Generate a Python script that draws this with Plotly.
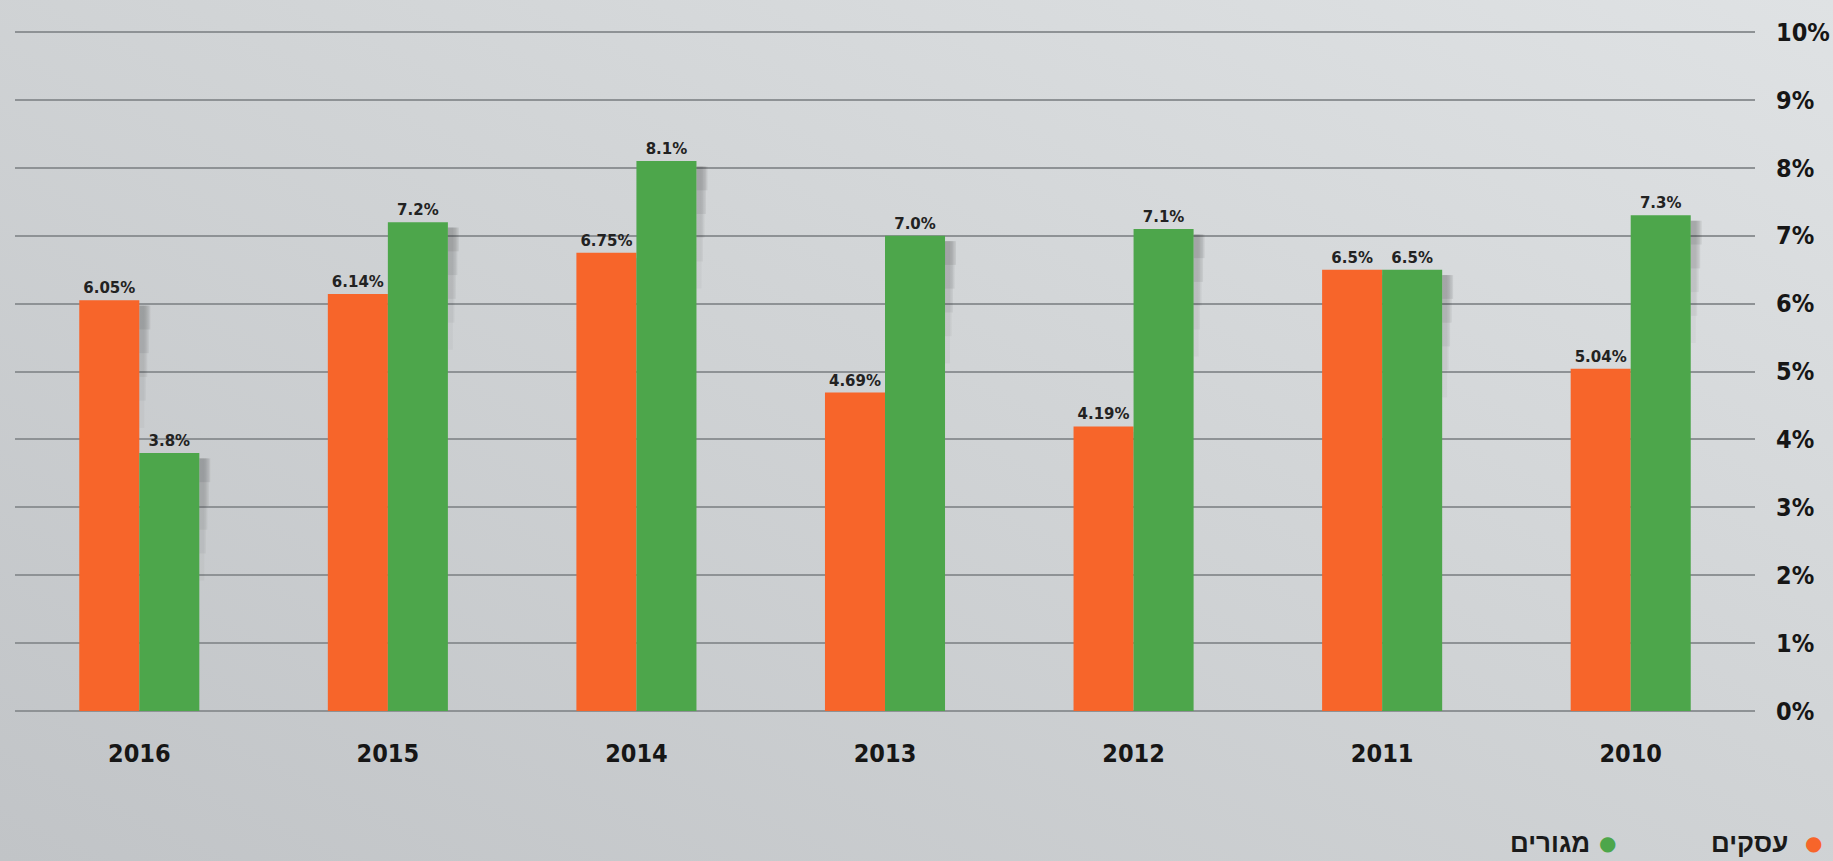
import base64
import plotly.graph_objects as go

years = ["2016", "2015", "2014", "2013", "2012", "2011", "2010"]
business = [6.05, 6.14, 6.75, 4.69, 4.19, 6.5, 5.04]
business_labels = ["6.05%", "6.14%", "6.75%", "4.69%", "4.19%", "6.5%", "5.04%"]
housing = [3.8, 7.2, 8.1, 7.0, 7.1, 6.5, 7.3]
housing_labels = ["3.8%", "7.2%", "8.1%", "7.0%", "7.1%", "6.5%", "7.3%"]
y_ticks = [0, 1, 2, 3, 4, 5, 6, 7, 8, 9, 10]
y_tick_labels = [f"{v}%" for v in y_ticks]
legend_names = ["עסקים", "מגורים"]

ORANGE = "#f7652a"
GREEN = "#4da64b"

W, H = 1833, 861
ML, MR, MT, MB = 15, 78, 30, 148
PW, PH = W - ML - MR, H - MT - MB
Y_PAD = 0.03
BAR_W = 0.2415

svg = f"""<svg xmlns='http://www.w3.org/2000/svg' width='{W}' height='{H}' preserveAspectRatio='none'>
<defs><linearGradient id='g' x1='0' y1='1' x2='1' y2='0'>
<stop offset='0' stop-color='#c1c4c7'/><stop offset='0.55' stop-color='#d1d4d6'/><stop offset='1' stop-color='#dfe2e4'/>
</linearGradient></defs><rect width='{W}' height='{H}' fill='url(#g)'/></svg>"""
bg_src = "data:image/svg+xml;base64," + base64.b64encode(svg.encode()).decode()

fig = go.Figure()

# soft shadows to the right of bars
for vals, off in ((business, -BAR_W), (housing, 0.0)):
    for depth, alpha, wid in ((0.35, 0.09, 0.044), (0.7, 0.08, 0.038), (1.05, 0.06, 0.032),
                              (1.4, 0.05, 0.026), (1.8, 0.04, 0.02)):
        fig.add_trace(go.Bar(
            x=years, y=[min(depth, v) for v in vals],
            base=[v - min(depth, v) - 0.08 for v in vals],
            offset=off + BAR_W, width=wid,
            marker=dict(color=f"rgba(40,40,40,{alpha})", line=dict(width=0)),
            hoverinfo="skip", showlegend=False,
        ))

label_font = dict(family="DejaVu Sans", size=15, color="#222222", weight="bold")
fig.add_trace(go.Bar(
    x=years, y=business, name=legend_names[0], offset=-BAR_W, width=BAR_W,
    marker=dict(color=ORANGE, line=dict(width=0)),
    text=business_labels, textposition="outside", textfont=label_font,
    cliponaxis=False, showlegend=False,
))
fig.add_trace(go.Bar(
    x=years, y=housing, name=legend_names[1], offset=0, width=BAR_W,
    marker=dict(color=GREEN, line=dict(width=0)),
    text=housing_labels, textposition="outside", textfont=label_font,
    cliponaxis=False, showlegend=False,
))

tick_font = dict(family="DejaVu Sans Condensed", size=25, color="#161616", weight="bold")

fig.update_layout(
    width=W, height=H,
    margin=dict(l=ML, r=MR, t=MT, b=MB, pad=0, autoexpand=False),
    barmode="overlay",
    paper_bgcolor="#d2d5d7",
    plot_bgcolor="rgba(0,0,0,0)",
    showlegend=False,
    xaxis=dict(
        type="category", categoryorder="array", categoryarray=years,
        showgrid=False, zeroline=False, showline=False, ticks="",
        tickfont=tick_font, ticklabelstandoff=23, automargin=False,
    ),
    yaxis=dict(
        range=[-Y_PAD, 10 + Y_PAD], side="right", tickvals=y_ticks, ticktext=y_tick_labels,
        showgrid=True, gridcolor="#8e9295", gridwidth=2,
        zeroline=False, showline=False, ticks="",
        tickfont=tick_font, ticklabelstandoff=20, automargin=False,
    ),
    images=[dict(
        source=bg_src, xref="paper", yref="paper",
        x=-ML / PW, y=1 + MT / PH, sizex=W / PW, sizey=H / PH,
        xanchor="left", yanchor="top", sizing="stretch", layer="below",
    )],
)

legend_font = dict(family="Liberation Sans", size=26, color="#1a1a1a", weight="bold")
legend_items = [(legend_names[0], ORANGE, 1790, 1813), (legend_names[1], GREEN, 1592, 1607)]
ly = (H - MB - 843) / PH
for name, color, text_right, dot_x in legend_items:
    fig.add_annotation(text=name, xref="paper", yref="paper", x=(text_right - ML) / PW, y=ly,
                       xanchor="right", yanchor="middle", showarrow=False, font=legend_font)
    fig.add_annotation(text="●", xref="paper", yref="paper", x=(dot_x - ML) / PW, y=ly,
                       xanchor="center", yanchor="middle", showarrow=False,
                       font=dict(family="DejaVu Sans", size=20, color=color))

fig.write_html(
    "out.html",
    config={"displayModeBar": False},
    post_script="document.body.style.margin='0';document.body.style.overflow='hidden';",
)
